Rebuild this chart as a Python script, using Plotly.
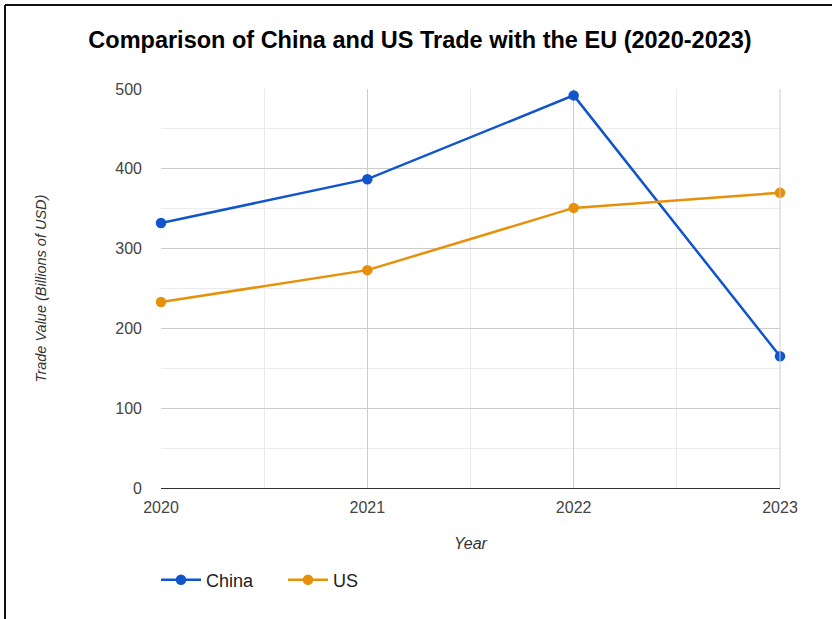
import plotly.graph_objects as go

years = [2020, 2021, 2022, 2023]
china = [332, 387, 492, 165]
us = [233, 273, 351, 370]
series_names = ["China", "US"]
y_ticks = [0, 100, 200, 300, 400, 500]

W, H = 832, 619
L, R, T, B = 161, 52, 89, 131
pw, ph = W - L - R, H - T - B

def px_x(p):
    return (p - L) / pw

def px_y(p):
    return (H - B - p) / ph

fig = go.Figure()
fig.add_trace(go.Scatter(x=years, y=china, name=series_names[0], mode="lines+markers",
                         line=dict(color="#1155CC", width=2.5),
                         marker=dict(size=10.5, color="#1155CC"), cliponaxis=False))
fig.add_trace(go.Scatter(x=years, y=us, name=series_names[1], mode="lines+markers",
                         line=dict(color="#E69109", width=2.5),
                         marker=dict(size=10.5, color="#E69109"), cliponaxis=False))

font_family = "Liberation Sans, Arial, sans-serif"

fig.update_layout(
    width=W, height=H,
    margin=dict(l=L, r=R, t=T, b=B),
    paper_bgcolor="white", plot_bgcolor="white",
    font=dict(family=font_family, color="#444"),
    title=dict(text="<b>Comparison of China and US Trade with the EU (2020-2023)</b>",
               x=(420 - L) / pw, xref="paper", xanchor="center", y=1 - 40 / H, yanchor="middle",
               font=dict(size=23.5, color="#000", family=font_family)),
    showlegend=True,
    legend=dict(orientation="h", x=px_x(156), xanchor="left", y=px_y(580), yanchor="middle",
                font=dict(size=18, color="#222"), itemwidth=40, traceorder="normal",
                entrywidth=72, entrywidthmode="pixels"),
    xaxis=dict(range=[2020, 2023], dtick=1, tick0=2020, tickformat="d",
               showgrid=True, gridcolor="#cccccc", gridwidth=1,
               minor=dict(dtick=0.5, showgrid=True, gridcolor="#ebebeb"),
               showline=True, linecolor="#333", linewidth=1, zeroline=False,
               tickfont=dict(size=16, color="#444"), ticklabelstandoff=5,
               title=dict(text="<i>Year</i>", font=dict(size=16, color="#333"), standoff=22),
               fixedrange=True),
    yaxis=dict(range=[0, 500], tickvals=y_ticks,
               showgrid=True, gridcolor="#cccccc", gridwidth=1,
               minor=dict(dtick=50, showgrid=True, gridcolor="#ebebeb"),
               showline=False, zeroline=False,
               tickfont=dict(size=16, color="#444"), ticklabelstandoff=18,
               title=dict(text="<i>Trade Value (Billions of USD)</i>", font=dict(size=14.5, color="#333"), standoff=65),
               automargin=False, fixedrange=True),
)

fig.add_shape(type="line", xref="paper", yref="paper", x0=px_x(5), x1=px_x(W + 5), y0=px_y(5), y1=px_y(5),
              line=dict(color="#111", width=2))
fig.add_shape(type="line", xref="paper", yref="paper", x0=px_x(5), x1=px_x(5), y0=px_y(5), y1=px_y(H + 5),
              line=dict(color="#111", width=2))
fig.add_shape(type="line", xref="paper", yref="paper", x0=1, x1=1, y0=0, y1=1,
              line=dict(color="#cccccc", width=1))

fig.write_html("out.html")
